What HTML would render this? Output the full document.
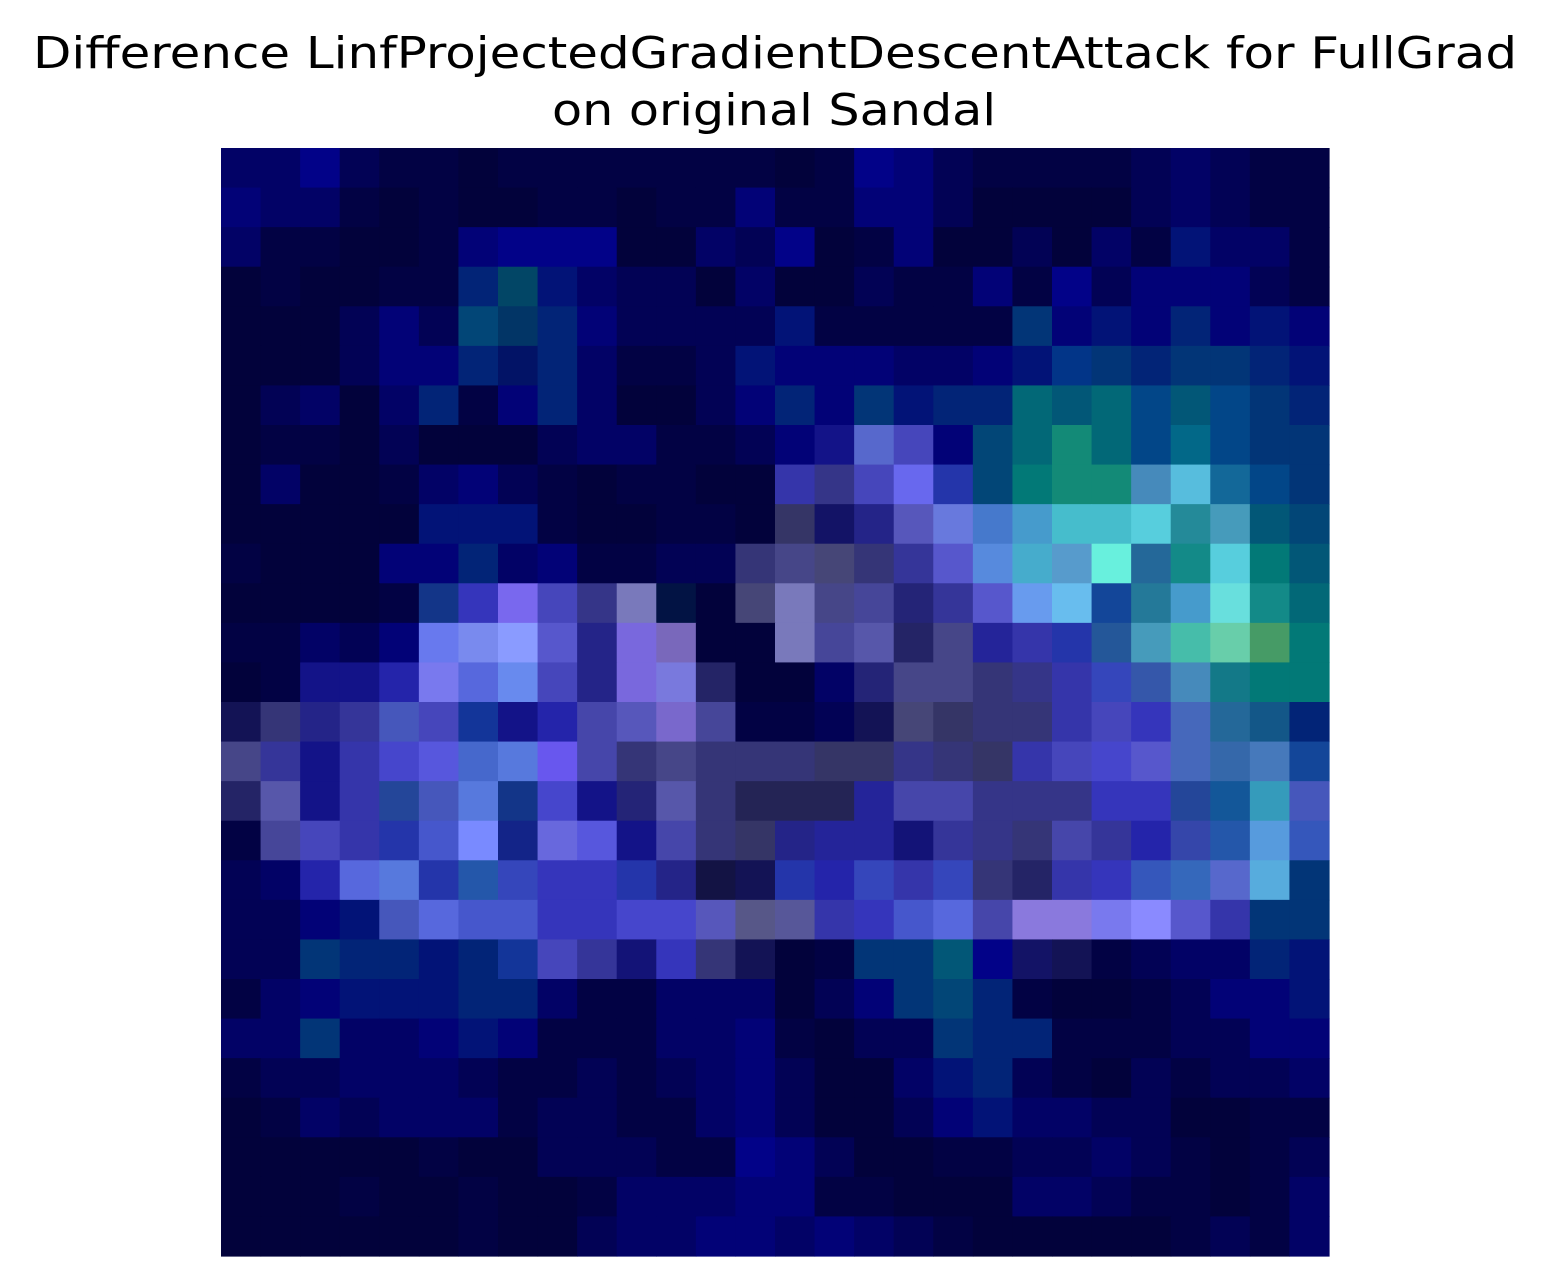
<!DOCTYPE html>
<html><head><meta charset="utf-8"><style>
html,body{margin:0;padding:0;background:#fff;width:1550px;height:1287px;overflow:hidden}
svg{display:block}
text{font-family:"DejaVu Sans","Liberation Sans",sans-serif;fill:#000}
</style></head><body>
<svg id="chart" width="1550" height="1287" viewBox="0 0 1550 1287" xmlns="http://www.w3.org/2000/svg">
<text x="775" y="68" font-size="44" text-anchor="middle" textLength="1484" lengthAdjust="spacingAndGlyphs">Difference LinfProjectedGradientDescentAttack for FullGrad</text>
<text x="774" y="125" font-size="44" text-anchor="middle" textLength="444" lengthAdjust="spacingAndGlyphs">on original Sandal</text>
<g id="cells"></g>
</svg>
<script>
const rows = [
"006 006 008 005 004 004 003 004 004 004 004 004 004 004 003 004 008 007 005 004 004 004 004 005 006 005 004 004",
"007 006 006 004 003 004 003 003 004 004 003 004 004 007 004 004 007 007 005 003 003 003 003 005 006 005 004 004",
"006 004 004 003 003 004 007 008 008 008 003 003 006 005 008 003 004 007 003 003 005 003 006 004 017 006 006 004",
"003 004 003 003 004 004 027 046 017 006 005 005 003 006 003 003 005 004 004 007 004 008 005 007 007 007 005 004",
"003 003 003 005 007 005 047 036 027 007 005 005 005 005 017 004 004 004 004 004 037 007 017 007 027 007 017 007",
"003 003 003 005 007 007 027 016 027 006 004 004 005 017 007 007 007 006 006 007 017 038 037 027 037 037 027 017",
"003 005 006 003 006 027 004 007 027 006 003 003 005 007 027 007 037 017 027 027 067 057 067 048 057 048 037 027",
"003 004 004 003 005 003 003 003 005 006 006 004 004 005 007 118 56c 44b 007 047 067 187 067 048 068 048 037 037",
"003 006 003 003 004 006 007 005 004 003 004 004 003 003 33a 338 44b 66e 23a 047 077 187 187 48b 5bd 169 048 037",
"003 003 003 003 003 017 017 017 004 003 003 004 004 003 336 116 228 55b 67d 47c 49c 4bc 4bc 5cd 289 49b 057 047",
"004 003 003 003 007 007 027 006 007 004 004 005 005 337 448 447 337 339 55c 58d 4ac 59c 6ed 269 188 5cd 077 057",
"003 003 003 003 004 138 33b 76e 44b 338 77b 014 003 447 77b 448 449 227 339 55c 69e 6be 149 279 49c 6dd 188 067",
"004 004 006 005 007 67e 78e 89f 55c 228 76d 76b 003 003 77b 449 55a 226 448 229 33a 23a 259 49b 4ba 6ca 496 077",
"003 004 118 118 22a 77e 56d 68e 44b 228 76d 77d 226 003 003 006 227 448 448 337 338 33a 34b 35a 48b 178 077 077",
"115 337 228 339 45b 44b 139 118 22a 44a 55b 76c 449 004 004 005 115 447 336 337 337 33a 44b 33b 46b 269 158 027",
"448 339 118 33a 44c 55d 46c 57d 65e 44a 337 448 337 337 337 336 336 338 337 336 33a 44b 44c 55c 46b 36a 47b 149",
"226 55a 118 33a 249 45b 57d 138 44c 118 227 55a 337 225 225 225 229 44a 44a 338 338 338 33b 33b 249 159 39b 45b",
"004 449 44b 33a 23a 45c 78f 128 66d 55d 118 44a 337 336 228 229 229 117 339 338 337 44a 339 22a 34a 25a 59d 35b",
"005 006 22a 56d 57d 23a 25a 34b 33b 33b 23a 228 114 115 23a 22a 34b 33a 34b 337 226 33a 33b 35b 36b 56c 5ad 037",
"005 005 007 017 45b 56d 45c 45c 33b 33b 44c 44c 55b 558 559 33a 33b 45c 56d 44a 87d 87d 77e 88f 55c 33a 037 037",
"005 005 037 027 027 017 027 139 44b 339 117 33b 337 115 003 004 037 037 057 008 116 115 004 005 006 006 027 017",
"004 006 007 017 017 017 027 027 006 004 004 006 006 006 003 005 007 037 047 027 004 003 003 004 005 007 007 017",
"006 006 037 006 006 007 017 007 004 004 004 006 006 007 004 003 005 005 037 027 027 004 004 004 005 005 007 007",
"004 005 005 006 006 006 005 004 004 005 004 005 006 007 005 003 003 006 017 027 005 004 003 005 004 005 005 006",
"003 004 006 005 006 006 006 004 005 005 004 004 006 007 005 003 003 005 007 017 006 006 005 005 003 003 004 004",
"003 003 003 003 003 004 003 003 005 005 005 004 004 008 007 005 003 003 004 004 005 005 006 005 004 003 004 005",
"003 003 003 004 003 003 004 003 003 004 006 006 006 007 007 004 004 003 003 003 006 006 005 004 004 003 004 006",
"003 003 003 003 003 003 004 003 003 005 006 006 007 007 006 007 006 005 004 003 003 003 003 003 004 005 004 006"
];
const x0 = 221, y0 = 148, W = 1108, H = 1108;
const nRows = rows.length, nCols = rows[0].split(" ").length;
const xScale = c => x0 + c * W / nCols;
const yScale = r => y0 + r * H / nRows;
const g = document.getElementById("cells");
const NS = "http://www.w3.org/2000/svg";
function toColor(s){
  const v = s.split("").map(ch => parseInt(ch, 16) * 17);
  // lift darkest navy slightly
  if (v[2] < 0x3c) v[2] = Math.round(v[2] * 0.6 + 0x3c * 0.4 + 4);
  v[0] = Math.min(255, v[0] + 2); v[1] = Math.min(255, v[1] + 2);
  return "rgb(" + v.join(",") + ")";
}
rows.forEach((row, r) => {
  row.split(" ").forEach((v, c) => {
    const rect = document.createElementNS(NS, "rect");
    rect.setAttribute("x", xScale(c));
    rect.setAttribute("y", yScale(r));
    rect.setAttribute("width", xScale(c + 1) - xScale(c) + 0.6);
    rect.setAttribute("height", yScale(r + 1) - yScale(r) + 0.6);
    rect.setAttribute("fill", toColor(v));
    
    
    g.appendChild(rect);
  });
});
</script>
</body></html>
